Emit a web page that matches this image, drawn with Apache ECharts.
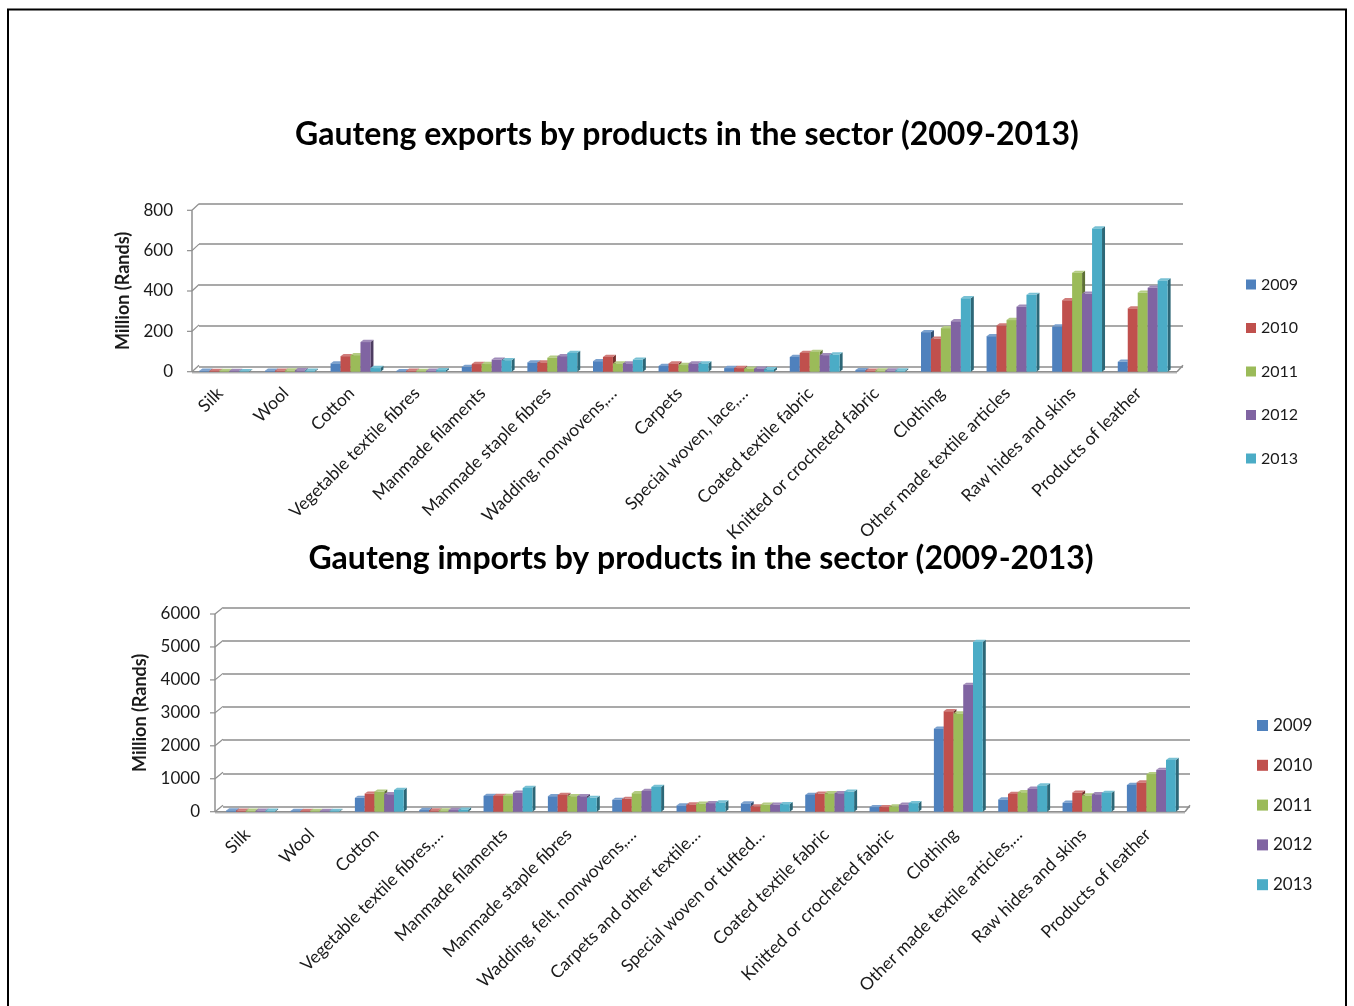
<!DOCTYPE html>
<html>
<head>
<meta charset="utf-8">
<script src="https://cdn.jsdelivr.net/npm/echarts@6/dist/echarts.min.js"></script>
<style>
  html, body { margin: 0; padding: 0; background: #ffffff; }
  #chart { width: 1354px; height: 1006px; }
</style>
</head>
<body>
<div id="chart"></div>
<script>
// Product categories (export chart and import chart use slightly different short labels)
const exportCategories = [
  'Silk', 'Wool', 'Cotton', 'Vegetable textile fibres', 'Manmade filaments',
  'Manmade staple fibres', 'Wadding, nonwovens,…', 'Carpets', 'Special woven, lace,…',
  'Coated textile fabric', 'Knitted or crocheted fabric', 'Clothing',
  'Other made textile articles', 'Raw hides and skins', 'Products of leather'
];
const importCategories = [
  'Silk', 'Wool', 'Cotton', 'Vegetable textile fibres,…', 'Manmade filaments',
  'Manmade staple fibres', 'Wadding, felt, nonwovens,…', 'Carpets and other textile…',
  'Special woven or tufted…', 'Coated textile fabric', 'Knitted or crocheted fabric',
  'Clothing', 'Other made textile articles,…', 'Raw hides and skins', 'Products of leather'
];

const years = ['2009', '2010', '2011', '2012', '2013'];

// Gauteng exports, million Rands
const exports2009 = [5, 5, 41, 3, 24, 46, 52, 28, 18, 73, 8, 196, 176, 224, 49];
const exports2010 = [4, 5, 77, 5, 38, 46, 73, 41, 18, 93, 5, 163, 229, 354, 314];
const exports2011 = [4, 6, 82, 4, 38, 69, 41, 33, 15, 98, 6, 216, 256, 490, 392];
const exports2012 = [4, 7, 147, 5, 60, 77, 41, 41, 15, 82, 6, 250, 322, 387, 416];
const exports2013 = [3, 5, 18, 8, 57, 93, 60, 41, 12, 85, 6, 364, 381, 710, 452];

// Gauteng imports, million Rands
const imports2009 = [40, 25, 420, 50, 480, 470, 360, 190, 250, 510, 140, 2520, 370, 270, 810];
const imports2010 = [30, 25, 550, 40, 480, 510, 390, 220, 160, 550, 140, 3050, 540, 580, 890];
const imports2011 = [30, 25, 610, 40, 480, 470, 560, 240, 210, 560, 160, 2980, 590, 490, 1140];
const imports2012 = [30, 25, 530, 50, 580, 470, 630, 260, 210, 560, 210, 3850, 700, 530, 1270];
const imports2013 = [30, 25, 660, 60, 720, 420, 750, 280, 230, 610, 260, 5150, 800, 570, 1570];

// Value axis ticks
const exportTicks = [0, 200, 400, 600, 800];
const importTicks = [0, 1000, 2000, 3000, 4000, 5000, 6000];

const exportSeries = [exports2009, exports2010, exports2011, exports2012, exports2013];
const importSeries = [imports2009, imports2010, imports2011, imports2012, imports2013];

const palette = ['#4F81BD', '#C0504D', '#9BBB59', '#8064A2', '#4BACC6'];
const FONT = 'Lato, "Open Sans", sans-serif';
const TEXT = '#1a1a1a';

function shade(hex, k) {
  const n = parseInt(hex.slice(1), 16);
  let r = (n >> 16) & 255, g = (n >> 8) & 255, b = n & 255;
  const f = c => Math.max(0, Math.min(255, Math.round(k >= 0 ? c + (255 - c) * k : c * (1 + k))));
  return 'rgb(' + f(r) + ',' + f(g) + ',' + f(b) + ')';
}

// 3D-looking clustered column: front face, lit top face, shaded right side
function columnRenderer(si, count, frac, dx, dy) {
  return function (params, api) {
    const cat = api.value(0), v = api.value(1);
    const top = api.coord([cat, v]);
    const base = api.coord([cat, 0]);
    const band = api.size([1, 0])[0];
    const w = band * frac;
    const x = top[0] - (count * w + dx) / 2 + si * w;
    const yT = top[1], yB = base[1];
    const c = palette[si];
    return {
      type: 'group',
      children: [
        { type: 'polygon', shape: { points: [[x + w, yT], [x + w + dx, yT - dy], [x + w + dx, yB - dy], [x + w, yB]] },
          style: { fill: shade(c, -0.4) } },
        { type: 'polygon', shape: { points: [[x, yT], [x + w, yT], [x + w + dx, yT - dy], [x + dx, yT - dy]] },
          style: { fill: shade(c, 0.25) } },
        { type: 'rect', shape: { x: x, y: yT, width: w, height: Math.max(0, yB - yT) },
          style: { fill: c } }
      ]
    };
  };
}

// Floor edge, axis tick connectors to the back wall
function frameRenderer(ticks, axisX, dx, dy, backEndX) {
  return function (params, api) {
    const cs = params.coordSys;
    const yB = api.coord([0, 0])[1];
    const right = cs.x + cs.width;
    const children = [
      { type: 'line', shape: { x1: axisX, y1: yB + 1, x2: right, y2: yB + 1 },
        style: { stroke: '#d0d0d0', lineWidth: 2 } },
      { type: 'line', shape: { x1: axisX, y1: yB, x2: right, y2: yB },
        style: { stroke: '#8f8f8f', lineWidth: 1.5 } },
      { type: 'line', shape: { x1: right, y1: yB, x2: backEndX, y2: yB - dy },
        style: { stroke: '#8f8f8f', lineWidth: 1.5 } },
      { type: 'line', shape: { x1: axisX, y1: cs.y, x2: axisX, y2: yB },
        style: { stroke: '#8f8f8f', lineWidth: 1.5 } }
    ];
    ticks.forEach(t => {
      const y = api.coord([0, t])[1];
      children.push({ type: 'line', shape: { x1: axisX - 5, y1: y, x2: axisX, y2: y },
        style: { stroke: '#8f8f8f', lineWidth: 1.2 } });
      children.push({ type: 'line', shape: { x1: axisX, y1: y, x2: axisX + dx, y2: y - dy },
        style: { stroke: '#8f8f8f', lineWidth: 1.2 } });
    });
    return { type: 'group', children: children };
  };
}

const chart = echarts.init(document.getElementById('chart'), null, { renderer: 'canvas' });

const grids = [
  // 0: export front plane, 1: export back wall
  { left: 193, top: 210.3, width: 984, height: 161.4 },
  { left: 199, top: 203.3, width: 984, height: 163.4 },
  // 2: import front plane, 3: import back wall
  { left: 220, top: 614, width: 965, height: 197.7 },
  { left: 223, top: 607.3, width: 967, height: 199.4 }
];

function catAxis(gridIndex, data, show, margin, shift) {
  return {
    type: 'category', gridIndex: gridIndex, data: data, boundaryGap: true,
    axisLine: { show: false }, axisTick: { show: false }, splitLine: { show: false },
    axisLabel: show ? { show: true, rotate: 45, margin: margin, padding: [0, shift, 0, 0],
                        fontFamily: FONT, fontSize: 17.5, color: TEXT, interval: 0 }
                    : { show: false }
  };
}

function valAxis(gridIndex, max, interval, front, opts) {
  return Object.assign({
    type: 'value', gridIndex: gridIndex, min: 0, max: max, interval: interval,
    axisLine: { show: false }, axisTick: { show: false },
    splitLine: front ? { show: false } : { show: true, lineStyle: { color: '#8c8c8c', width: 1.5 } },
    axisLabel: { show: false }
  }, opts || {});
}

const series = [];
years.forEach((y, si) => {
  series.push({
    name: y, type: 'custom', xAxisIndex: 0, yAxisIndex: 0,
    itemStyle: { color: palette[si] },
    renderItem: columnRenderer(si, years.length, 0.152, 3, 2.2),
    encode: { x: 0, y: 1 },
    data: exportSeries[si].map((v, i) => [i, v]),
    z: 3
  });
});
years.forEach((y, si) => {
  series.push({
    name: y, type: 'custom', xAxisIndex: 2, yAxisIndex: 2,
    itemStyle: { color: palette[si] },
    renderItem: columnRenderer(si, years.length, 0.152, 3, 2.2),
    encode: { x: 0, y: 1 },
    data: importSeries[si].map((v, i) => [i, v]),
    z: 3
  });
});
series.push({
  type: 'custom', xAxisIndex: 0, yAxisIndex: 0, silent: true, z: 2,
  renderItem: frameRenderer(exportTicks, 192, 7, 6.5, 1183), data: [[0, 0]]
});
series.push({
  type: 'custom', xAxisIndex: 2, yAxisIndex: 2, silent: true, z: 2,
  renderItem: frameRenderer(importTicks, 215, 8, 6.5, 1190), data: [[0, 0]]
});

const plainNumber = v => String(v);

chart.setOption({
  backgroundColor: '#ffffff',
  animation: false,
  title: [
    { text: 'Gauteng exports by products in the sector (2009-2013)', left: 682, top: 114, textAlign: 'center',
      textStyle: { fontFamily: FONT, fontSize: 32, fontWeight: 'bold', color: '#000' } },
    { text: 'Gauteng imports by products in the sector (2009-2013)', left: 696, top: 538, textAlign: 'center',
      textStyle: { fontFamily: FONT, fontSize: 32, fontWeight: 'bold', color: '#000' } }
  ],
  legend: [
    { data: years, orient: 'vertical', left: 1241, top: 271.5, icon: 'rect', itemWidth: 10, itemHeight: 10,
      itemGap: 27.5, selectedMode: false, textStyle: { fontFamily: FONT, fontSize: 16, color: TEXT } },
    { data: years, orient: 'vertical', left: 1252, top: 712, icon: 'rect', itemWidth: 11, itemHeight: 11,
      itemGap: 22.8, selectedMode: false, textStyle: { fontFamily: FONT, fontSize: 17, color: TEXT } }
  ],
  grid: grids,
  xAxis: [
    catAxis(0, exportCategories, true, 13, 8),
    catAxis(1, exportCategories, false),
    catAxis(2, importCategories, true, 15, 7),
    catAxis(3, importCategories, false)
  ],
  yAxis: [
    valAxis(0, 800, 200, true, {
      name: 'Million (Rands)', nameLocation: 'middle', nameRotate: 90, nameGap: 57,
      nameTextStyle: { fontFamily: FONT, fontSize: 18, fontWeight: 'bold', color: TEXT },
      axisLabel: { show: true, margin: 20, fontFamily: FONT, fontSize: 17, color: TEXT, formatter: plainNumber }
    }),
    valAxis(1, 800, 200, false),
    valAxis(2, 6000, 1000, true, {
      offset: 5,
      name: 'Million (Rands)', nameLocation: 'middle', nameRotate: 90, nameGap: 64,
      nameTextStyle: { fontFamily: FONT, fontSize: 18, fontWeight: 'bold', color: TEXT },
      axisLabel: { show: true, margin: 15, fontFamily: FONT, fontSize: 17, color: TEXT, formatter: plainNumber }
    }),
    valAxis(3, 6000, 1000, false)
  ],
  graphic: [
    { type: 'rect', shape: { x: 8, y: 9.5, width: 1338, height: 1100 },
      style: { fill: 'none', stroke: '#000', lineWidth: 2 }, silent: true }
  ],
  series: series
});
</script>
</body>
</html>
